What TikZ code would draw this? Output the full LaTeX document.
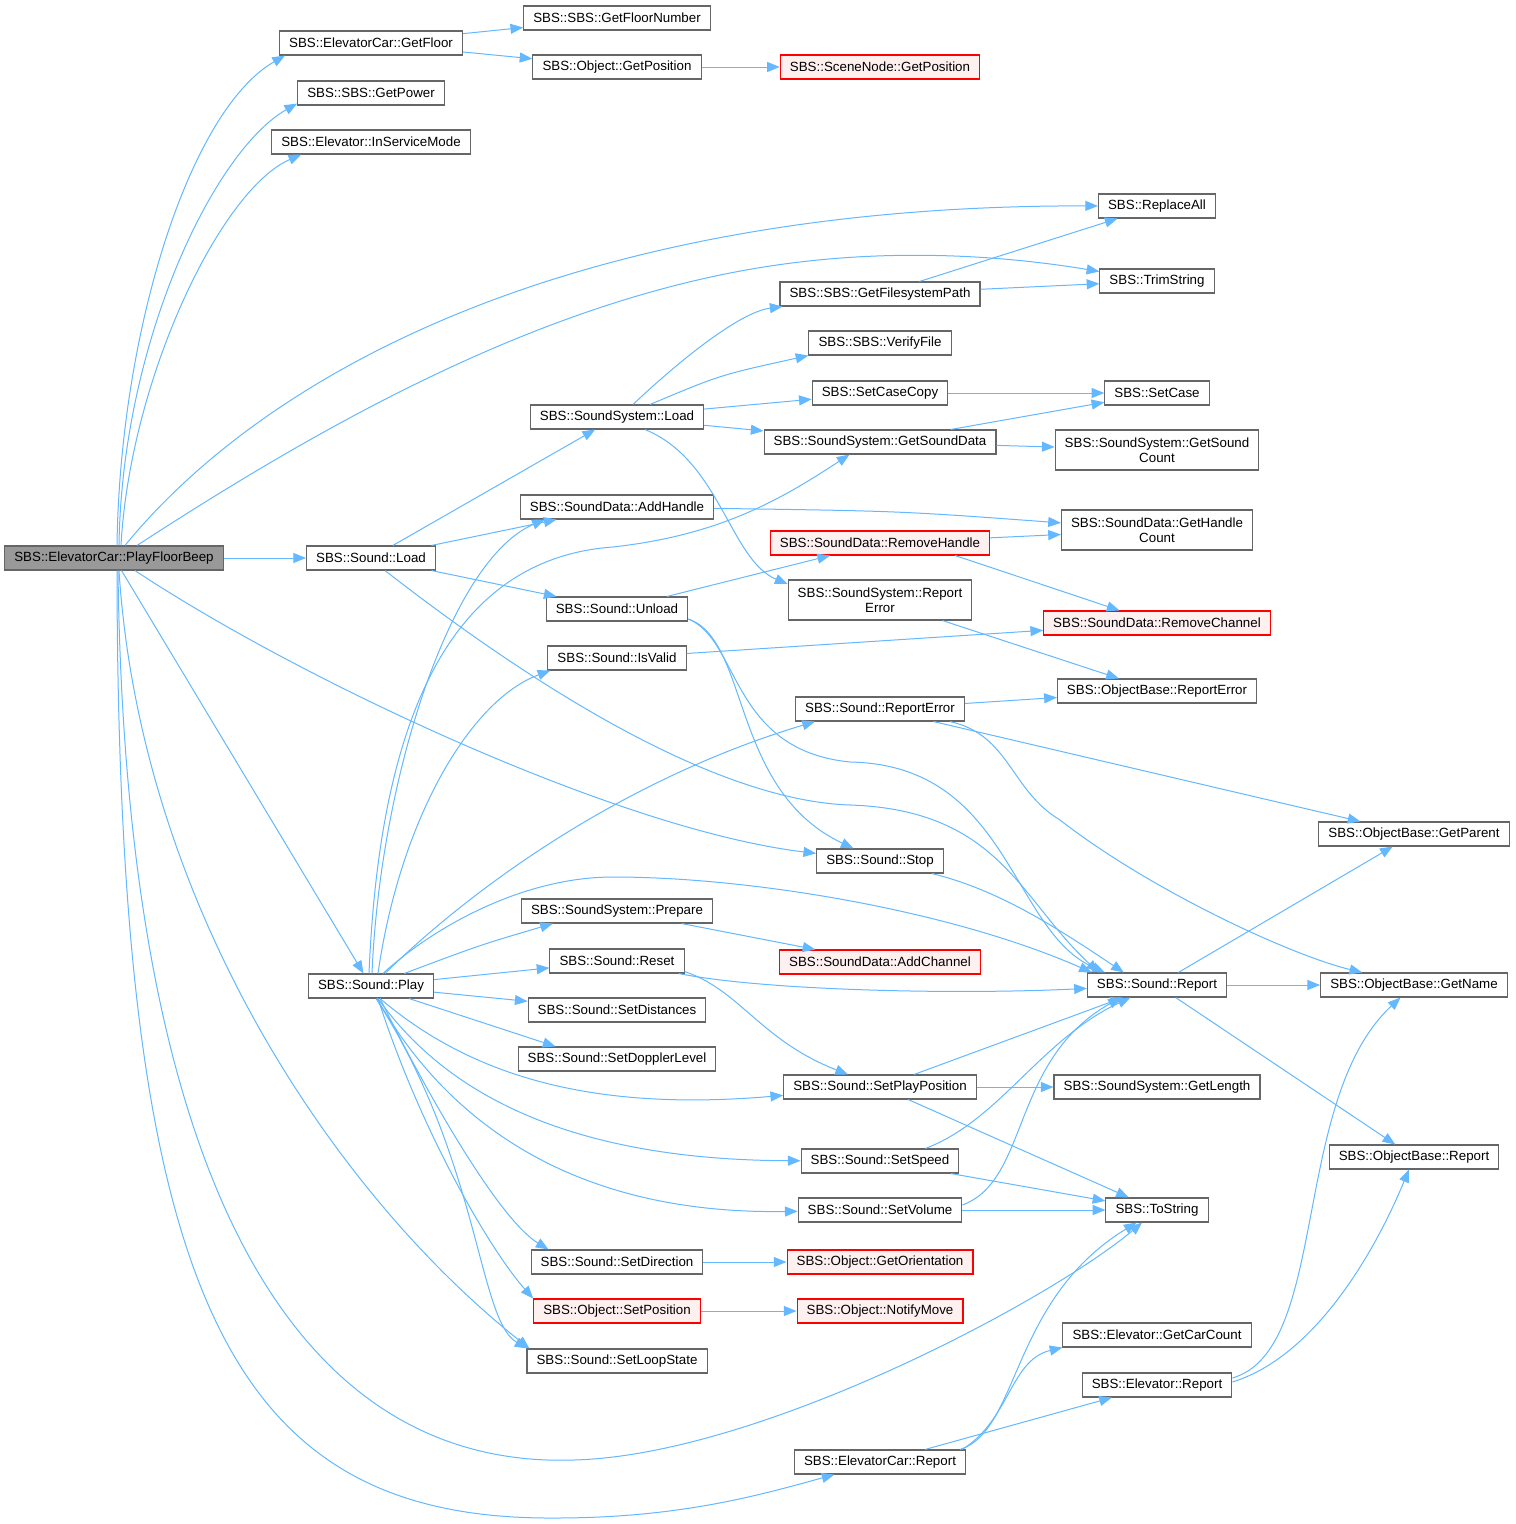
\documentclass[tikz,border=0pt]{standalone}
\usepackage{fontspec}
\setmainfont{Liberation Sans}
\usepackage{tikz}
\usetikzlibrary{calc,arrows.meta}
\definecolor{edgeblue}{HTML}{63B8FF}
\definecolor{boxline}{HTML}{666666}
\definecolor{rootfill}{HTML}{999999}
\definecolor{redfill}{HTML}{FFF0F0}

\begin{document}
\begin{tikzpicture}[x=0.75pt, y=-0.75pt,
  fn/.style={rectangle, draw=boxline, fill=white, line width=0.8pt, minimum height=18pt, inner xsep=7.2pt, inner ysep=1pt, font=\fontsize{10}{11.25}\selectfont, align=center},
  fnred/.style={fn, draw=red, fill=redfill},
  fnroot/.style={fn, fill=rootfill},
  fntwo/.style={fn, minimum height=30pt},
  call/.style={-{Triangle[length=9.5pt,width=7.5pt]}, line width=0.75pt, draw=edgeblue}
]
\fill[white] (0,0) rectangle (1516,1524);
\useasboundingbox (0,0) rectangle (1516,1524);

\node[fnroot] (root) at (114,558) {SBS::ElevatorCar::PlayFloorBeep};
\node[fn] (getfloor) at (371,43) {SBS::ElevatorCar::GetFloor};
\node[fn] (floornum) at (617,18) {SBS::SBS::GetFloorNumber};
\node[fn] (objpos) at (617,67) {SBS::Object::GetPosition};
\node[fnred] (scenepos) at (880,67) {SBS::SceneNode::GetPosition};
\node[fn] (getpower) at (371,93) {SBS::SBS::GetPower};
\node[fn] (inservice) at (371,142) {SBS::Elevator::InServiceMode};
\node[fn] (replaceall) at (1157,206) {SBS::ReplaceAll};
\node[fn] (trimstring) at (1157,281) {SBS::TrimString};
\node[fn] (fspath) at (880,294) {SBS::SBS::GetFilesystemPath};
\node[fn] (verify) at (880,343) {SBS::SBS::VerifyFile};
\node[fn] (casecopy) at (880,393) {SBS::SetCaseCopy};
\node[fn] (setcase) at (1157,393) {SBS::SetCase};
\node[fn] (ssload) at (617,417) {SBS::SoundSystem::Load};
\node[fn] (sounddata) at (880,442) {SBS::SoundSystem::GetSoundData};
\node[fntwo] (soundcount) at (1157,450) {SBS::SoundSystem::GetSound\\Count};
\node[fn] (addhandle) at (617,507) {SBS::SoundData::AddHandle};
\node[fntwo] (handlecount) at (1157,530) {SBS::SoundData::GetHandle\\Count};
\node[fnred] (rmhandle) at (880,543) {SBS::SoundData::RemoveHandle};
\node[fn] (sload) at (371,558) {SBS::Sound::Load};
\node[fntwo] (ssreperr) at (880,600) {SBS::SoundSystem::Report\\Error};
\node[fn] (unload) at (617,609) {SBS::Sound::Unload};
\node[fnred] (rmchannel) at (1157,623) {SBS::SoundData::RemoveChannel};
\node[fn] (isvalid) at (617,658) {SBS::Sound::IsValid};
\node[fn] (obreperr) at (1157,691) {SBS::ObjectBase::ReportError};
\node[fn] (sreperr) at (880,709) {SBS::Sound::ReportError};
\node[fn] (getparent) at (1414,834) {SBS::ObjectBase::GetParent};
\node[fn] (stop) at (880,861) {SBS::Sound::Stop};
\node[fn] (prepare) at (617,911) {SBS::SoundSystem::Prepare};
\node[fn] (reset) at (617,961) {SBS::Sound::Reset};
\node[fnred] (addchannel) at (880,962) {SBS::SoundData::AddChannel};
\node[fn] (play) at (371,986) {SBS::Sound::Play};
\node[fn] (sreport) at (1157,985) {SBS::Sound::Report};
\node[fn] (getname) at (1414,985) {SBS::ObjectBase::GetName};
\node[fn] (distances) at (617,1010) {SBS::Sound::SetDistances};
\node[fn] (doppler) at (617,1059) {SBS::Sound::SetDopplerLevel};
\node[fn] (playpos) at (880,1087) {SBS::Sound::SetPlayPosition};
\node[fn] (getlength) at (1157,1087) {SBS::SoundSystem::GetLength};
\node[fn] (obreport) at (1414,1157) {SBS::ObjectBase::Report};
\node[fn] (speed) at (880,1161) {SBS::Sound::SetSpeed};
\node[fn] (tostring) at (1157,1210) {SBS::ToString};
\node[fn] (volume) at (880,1210) {SBS::Sound::SetVolume};
\node[fn] (direction) at (617,1262) {SBS::Sound::SetDirection};
\node[fnred] (orient) at (880,1262) {SBS::Object::GetOrientation};
\node[fnred] (setpos) at (617,1311) {SBS::Object::SetPosition};
\node[fnred] (notify) at (880,1311) {SBS::Object::NotifyMove};
\node[fn] (carcount) at (1157,1335) {SBS::Elevator::GetCarCount};
\node[fn] (loopstate) at (617,1361) {SBS::Sound::SetLoopState};
\node[fn] (elevreport) at (1157,1385) {SBS::Elevator::Report};
\node[fn] (carreport) at (880,1462) {SBS::ElevatorCar::Report};

\draw[call] ($(root.north)+(3,0)$) .. controls (120,330) and (190,110) .. ($(getfloor.south west)+(6,0)$);
\draw[call] ($(root.north)+(5,0)$) .. controls (122,340) and (215,150) .. ($(getpower.south west)+(0,-2)$);
\draw[call] ($(root.north)+(7,0)$) .. controls (130,380) and (220,190) .. ($(inservice.south west)+(30,0)$);
\draw[call] ($(root.north)+(11,0)$) .. controls (260,380) and (560,205) .. (replaceall);
\draw[call] ($(root.north)+(23,0)$) .. controls (330,420) and (560,290) .. (800,262) .. controls (900,250) and (1000,255) .. (trimstring);
\draw[call] (root) -- (sload);
\draw[call] (root) -- (play);
\draw[call] ($(root.south)+(21,0)$) .. controls (300,680) and (620,830) .. (stop);
\draw[call] ($(root.south)+(5,0)$) .. controls (140,900) and (330,1190) .. ($(loopstate.north west)+(3,0)$);
\draw[call] ($(root.south)+(4,0)$) .. controls (125,1150) and (280,1470) .. (574,1460) .. controls (760,1455) and (1050,1300) .. (tostring);
\draw[call] ($(root.south)+(3,0)$) .. controls (118,1300) and (230,1520) .. (555,1518) .. controls (680,1518) and (760,1495) .. (carreport);

\draw[call] (getfloor) -- (floornum);
\draw[call] (getfloor) -- (objpos);
\draw[call] (objpos) -- (scenepos);
\draw[call] (fspath) -- (replaceall);
\draw[call] (fspath) -- (trimstring);
\draw[call] (casecopy) -- (setcase);

\draw[call] ($(ssload.north)+(16,0)$) .. controls (680,360) and (740,312) .. (fspath);
\draw[call] ($(ssload.north)+(33,0)$) .. controls (720,375) .. (verify.south west);
\draw[call] (ssload) -- (casecopy);
\draw[call] (ssload) -- (sounddata);
\draw[call] ($(ssload.south)+(28,0)$) .. controls (720,460) and (730,560) .. ($(ssreperr.west)+(0,-16)$);
\draw[call] (sounddata) -- (setcase);
\draw[call] (sounddata) -- (soundcount);
\draw[call] (addhandle) .. controls (900,511) .. (handlecount);
\draw[call] (rmhandle) -- (handlecount);
\draw[call] ($(rmhandle.south east)+(-35,0)$) -- (rmchannel);

\draw[call] (sload) -- (ssload);
\draw[call] (sload) -- (addhandle);
\draw[call] (sload) -- (unload);
\draw[call] ($(sload.south)+(14,0)$) .. controls (500,660) and (700,800) .. (850,805) .. controls (1000,810) and (1020,900) .. ($(sreport.north west)+(12,0)$);

\draw[call] (unload) -- (rmhandle);
\draw[call] ($(unload.east)+(0,10)$) .. controls (750,640) and (730,790) .. (stop);
\draw[call] ($(unload.east)+(0,10)$) .. controls (740,640) and (730,750) .. (850,762) .. controls (1010,765) and (1010,930) .. ($(sreport.north west)+(18,0)$);
\draw[call] (isvalid) -- (rmchannel);
\draw[call] (ssreperr) -- (obreperr);
\draw[call] (sreperr) -- (obreperr);
\draw[call] (sreperr) -- (getparent);
\draw[call] ($(sreperr.south east)+(-15,0)$) .. controls (1010,735) and (1010,790) .. (1060,820) .. controls (1150,890) and (1290,955) .. (getname);
\draw[call] (stop) .. controls (1000,890) and (1060,930) .. ($(sreport.north west)+(37,0)$);
\draw[call] (prepare) -- (addchannel);
\draw[call] (reset) .. controls (760,990) and (950,995) .. (sreport);
\draw[call] ($(reset.south east)+(0,-2)$) .. controls (740,990) and (760,1040) .. (playpos);

\draw[call] ($(play.north)+(1,0)$) .. controls (380,780) and (450,560) .. ($(addhandle.south west)+(25,0)$);
\draw[call] ($(play.north)+(-2,0)$) .. controls (378,760) and (430,560) .. (613,547) .. controls (720,535) and (780,500) .. ($(sounddata.south west)+(86,0)$);
\draw[call] ($(play.north)+(7,0)$) .. controls (400,820) and (470,700) .. ($(isvalid.south west)+(3,0)$);
\draw[call] ($(play.north)+(14,0)$) .. controls (470,890) and (620,780) .. ($(sreperr.south west)+(20,0)$);
\draw[call] ($(play.north)+(12,0)$) .. controls (430,930) and (520,877) .. (613,877) .. controls (750,877) and (950,910) .. ($(sreport.north west)+(5,0)$);
\draw[call] (play) .. controls (480,945) .. ($(prepare.south west)+(32,0)$);
\draw[call] (play) -- (reset);
\draw[call] (play) -- (distances);
\draw[call] ($(play.south east)+(-25,0)$) -- ($(doppler.north west)+(38,0)$);
\draw[call] ($(play.south)+(9,0)$) .. controls (470,1075) and (590,1112) .. (playpos);
\draw[call] ($(play.south)+(7,0)$) .. controls (450,1100) and (580,1160) .. (speed);
\draw[call] ($(play.south)+(6,0)$) .. controls (440,1110) and (560,1215) .. (volume);
\draw[call] ($(play.south)+(9,0)$) .. controls (430,1100) and (500,1220) .. ($(direction.north west)+(18,0)$);
\draw[call] ($(play.south)+(7,0)$) .. controls (420,1130) and (490,1250) .. (setpos.north west);
\draw[call] ($(play.south)+(5,0)$) .. controls (480,1160) and (478,1320) .. ($(loopstate.north west)+(1,0)$);

\draw[call] (playpos) -- (sreport);
\draw[call] (playpos) -- (getlength);
\draw[call] (playpos) -- (tostring);
\draw[call] ($(speed.north east)+(-34,0)$) .. controls (1000,1120) and (1040,1040) .. (sreport);
\draw[call] (speed) -- (tostring);
\draw[call] ($(volume.east)+(0,-5)$) .. controls (1030,1180) and (1010,1060) .. ($(sreport.south west)+(34,0)$);
\draw[call] (volume) -- (tostring);
\draw[call] (direction) -- (orient);
\draw[call] (setpos) -- (notify);

\draw[call] (sreport) -- (getparent);
\draw[call] (sreport) -- (getname);
\draw[call] (sreport) -- (obreport);
\draw[call] ($(elevreport.east)+(0,-7)$) .. controls (1330,1350) and (1290,1100) .. (getname);
\draw[call] ($(elevreport.east)+(0,-3)$) .. controls (1320,1355) and (1380,1240) .. (obreport);
\draw[call] ($(carreport.north east)+(-4,0)$) .. controls (1010,1420) and (1010,1360) .. (carcount.south west);
\draw[call] (carreport) -- (elevreport);
\draw[call] ($(carreport.north east)+(-6,0)$) .. controls (1020,1430) and (1010,1300) .. (tostring);
\end{tikzpicture}
\end{document}
